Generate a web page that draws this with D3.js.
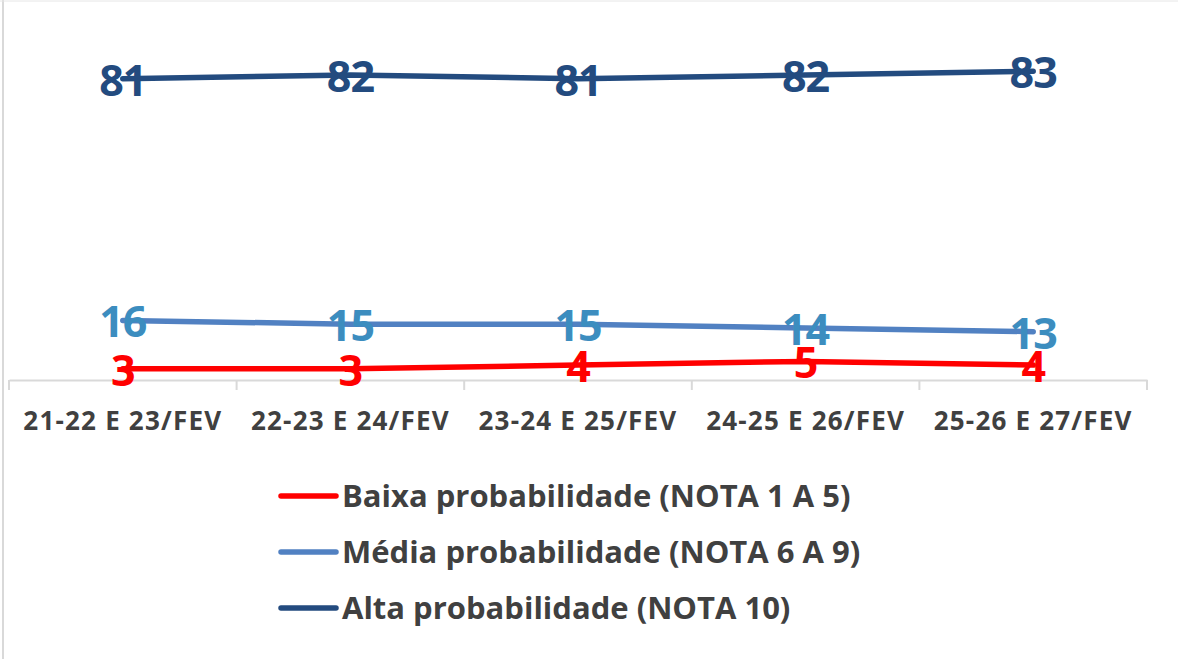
<!DOCTYPE html>
<html>
<head>
<meta charset="utf-8">
<script src="https://cdn.jsdelivr.net/npm/d3@7"></script>
<style>
  body { margin: 0; background: #fff; }
  svg { display: block; }
</style>
</head>
<body>
<div id="chart"></div>
<script>
// Categories and series values
const periods = ["21-22 E 23/FEV", "22-23 E 24/FEV", "23-24 E 25/FEV", "24-25 E 26/FEV", "25-26 E 27/FEV"];
const baixa = [3, 3, 4, 5, 4];
const media = [16, 15, 15, 14, 13];
const alta = [81, 82, 81, 82, 83];

const seriesNames = [
    "Baixa probabilidade (NOTA 1 A 5)",
    "Média probabilidade (NOTA 6 A 9)",
    "Alta probabilidade (NOTA 10)"
];

const width = 1178, height = 659;

const series = [
    { name: seriesNames[0], values: baixa, line: "#ff0000", label: "#ff0000" },
    { name: seriesNames[1], values: media, line: "#5181c2", label: "#3c8dbf" },
    { name: seriesNames[2], values: alta, line: "#234b7f", label: "#234b7f" }
];

const svg = d3.select("#chart").append("svg")
    .attr("width", width)
    .attr("height", height);

// frame (only left and top edges are visible in the original)
svg.append("line").attr("x1", 3).attr("x2", 3).attr("y1", 0).attr("y2", height)
    .attr("stroke", "#d9d9d9").attr("stroke-width", 2);
svg.append("line").attr("x1", 0).attr("x2", width).attr("y1", 1).attr("y2", 1)
    .attr("stroke", "#e6e6e6").attr("stroke-width", 1);

const x = d3.scaleBand().domain(periods).range([9, 1147]);
const y = d3.scaleLinear().domain([0, 100]).range([380, 8]);
const cx = d => x(d) + x.bandwidth() / 2;

// category axis
const xAxis = svg.append("g")
    .attr("transform", `translate(0,${y(0)})`)
    .call(d3.axisBottom(x).tickSize(0).tickFormat(""));
xAxis.select(".domain").attr("stroke", "#d9d9d9").attr("stroke-width", 2);

// tick marks between categories
const bounds = periods.map(p => x(p)).concat([x.range()[1]]);
svg.append("g").selectAll("line")
    .data(bounds)
    .enter().append("line")
    .attr("x1", d => d).attr("x2", d => d)
    .attr("y1", y(0)).attr("y2", y(0) + 10)
    .attr("stroke", "#d9d9d9").attr("stroke-width", 2);

svg.append("g").selectAll("text")
    .data(periods)
    .enter().append("text")
    .attr("x", d => cx(d))
    .attr("y", 430)
    .attr("text-anchor", "middle")
    .attr("font-family", "Open Sans")
    .attr("font-weight", 700)
    .attr("font-size", "26px")
    .attr("letter-spacing", "1.2px")
    .attr("fill", "#404040")
    .text(d => d);

// lines
const lineGen = d3.line()
    .x((v, i) => cx(periods[i]))
    .y(v => y(v));

svg.append("g").selectAll("path")
    .data(series)
    .enter().append("path")
    .attr("d", s => lineGen(s.values))
    .attr("fill", "none")
    .attr("stroke", s => s.line)
    .attr("stroke-width", 5.5)
    .attr("stroke-linecap", "round")
    .attr("stroke-linejoin", "round");

// data labels, drawn over the lines
series.forEach(s => {
    svg.append("g").selectAll("text")
        .data(s.values)
        .enter().append("text")
        .attr("x", (v, i) => cx(periods[i]))
        .attr("y", v => y(v) + 17)
        .attr("text-anchor", "middle")
        .attr("font-family", "Open Sans")
        .attr("font-weight", 700)
        .attr("font-size", "43px")
        .attr("letter-spacing", "-1px")
        .attr("fill", s.label)
        .text(v => v);
});

// legend
const legend = svg.append("g").selectAll("g")
    .data(series)
    .enter().append("g")
    .attr("transform", (s, i) => `translate(281,${496 + i * 56})`);

legend.append("line")
    .attr("x1", 0).attr("x2", 55)
    .attr("stroke", s => s.line)
    .attr("stroke-width", 5.5)
    .attr("stroke-linecap", "round");

legend.append("text")
    .attr("x", 61)
    .attr("y", 11)
    .attr("font-family", "Open Sans")
    .attr("font-weight", 700)
    .attr("font-size", "31px")
    .attr("fill", "#404040")
    .text(s => s.name);
</script>
</body>
</html>
